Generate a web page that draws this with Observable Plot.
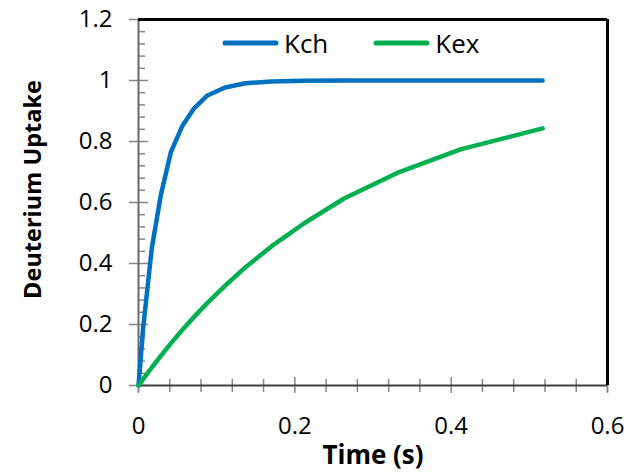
<!DOCTYPE html>
<html><head><meta charset="utf-8">
<script src="https://cdn.jsdelivr.net/npm/d3@7"></script>
<script src="https://cdn.jsdelivr.net/npm/@observablehq/plot@0.6"></script>
<style>
body{margin:0;background:#fff;}
#wrap{position:relative;width:641px;height:474px;font-family:"Open Sans",sans-serif;}
#legend{position:absolute;left:222px;top:29.6px;display:flex;align-items:center;font-size:26px;line-height:26px;color:#000;}
#legend .item{display:flex;align-items:center;margin-right:45px;}
#legend svg{margin-right:5px;}
</style></head><body><div id="wrap"></div>
<script>
const time = [0, 0.006, 0.017, 0.0286, 0.0414, 0.0563, 0.0711, 0.0882, 0.1107, 0.137, 0.170, 0.212, 0.263, 0.331, 0.412, 0.517];
const kch  = [0, 0.19, 0.45, 0.625, 0.765, 0.852, 0.909, 0.951, 0.977, 0.991, 0.997, 0.999, 1, 1, 1, 1];
const kex  = [0, 0.021, 0.059, 0.097, 0.138, 0.183, 0.225, 0.271, 0.327, 0.388, 0.456, 0.532, 0.613, 0.697, 0.774, 0.843];
const seriesNames = ["Kch", "Kex"];
const seriesColors = ["#0070C0", "#00B050"];
const xMajor = [0, 0.2, 0.4, 0.6];
const xMinor = [0, 0.04, 0.08, 0.12, 0.16, 0.24, 0.28, 0.32, 0.36, 0.44, 0.48, 0.52, 0.56, 0.6];
const yMajor = [0, 0.2, 0.4, 0.6, 0.8, 1, 1.2];
const yMinor = [0.04, 0.08, 0.12, 0.16, 0.24, 0.28, 0.32, 0.36, 0.44, 0.48, 0.52, 0.56, 0.64, 0.68, 0.72, 0.76, 0.84, 0.88, 0.92, 0.96, 1.04, 1.08, 1.12, 1.16];
const xLabel = "Time (s)";
const yLabel = "Deuterium Uptake";

const rows = [];
time.forEach((t, i) => {
  rows.push({t, v: kch[i], s: seriesNames[0]});
  rows.push({t, v: kex[i], s: seriesNames[1]});
});

const blank = () => "";
const tickGray = "#868686";

const chart = Plot.plot({
  width: 641,
  height: 474,
  marginLeft: 138,
  marginRight: 34,
  marginTop: 19,
  marginBottom: 89,
  style: {fontFamily: "'Open Sans', sans-serif", background: "#fff", color: "#000"},
  x: {domain: [0, 0.6]},
  y: {domain: [0, 1.2]},
  color: {domain: seriesNames, range: seriesColors},
  marks: [
    // y ticks
    Plot.axisY({ticks: yMinor, tickSize: -7, tickFormat: blank, label: null, stroke: tickGray, strokeWidth: 1.5}),
    Plot.axisY({ticks: yMajor, tickSize: -10, tickFormat: blank, label: null, stroke: tickGray, strokeWidth: 1.5}),
    Plot.axisY({ticks: yMajor, tickSize: 9, tickPadding: 17, tickFormat: d => String(d), label: null, stroke: tickGray, strokeWidth: 1.5, fontSize: 24, fill: "#000"}),
    // x ticks
    Plot.axisX({ticks: xMinor, tickSize: -6, tickFormat: blank, label: null, stroke: tickGray, strokeWidth: 1.5}),
    Plot.axisX({ticks: xMinor, tickSize: 7, tickFormat: blank, label: null, stroke: tickGray, strokeWidth: 1.5}),
    Plot.axisX({ticks: xMajor, tickSize: -8, tickFormat: blank, label: null, stroke: tickGray, strokeWidth: 1.5}),
    Plot.axisX({ticks: xMajor, tickSize: 8, tickPadding: 23, tickFormat: d => String(d), label: null, stroke: tickGray, strokeWidth: 1.5, fontSize: 24, fill: "#000"}),
    // axis lines and frame
    Plot.ruleX([0], {stroke: "#6a6a6a", strokeWidth: 2}),
    Plot.ruleY([0], {stroke: "#404040", strokeWidth: 2}),
    Plot.ruleY([1.2], {stroke: "#000", strokeWidth: 3}),
    Plot.ruleX([0.6], {stroke: "#000", strokeWidth: 3}),
    // data
    Plot.line(rows, {x: "t", y: "v", z: "s", stroke: "s", strokeWidth: 4.5, strokeLinejoin: "round", strokeLinecap: "round"}),
    // axis titles
    Plot.text([xLabel], {frameAnchor: "bottom", text: d => d, dy: 70.5, textAnchor: "middle", lineAnchor: "middle", fontSize: 26, fontWeight: "bold", fill: "#000"}),
    Plot.text([yLabel], {frameAnchor: "left", text: d => d, dx: -105, dy: -13, rotate: -90, textAnchor: "middle", lineAnchor: "middle", fontSize: 23.5, fontWeight: "bold", fill: "#000"})
  ]
});

const wrap = document.getElementById("wrap");
wrap.appendChild(chart);

const legend = d3.select(wrap).append("div").attr("id", "legend");
seriesNames.forEach((name, i) => {
  const item = legend.append("div").attr("class", "item");
  const sw = item.append("svg").attr("width", 57).attr("height", 8);
  sw.append("line").attr("x1", 3).attr("x2", 54).attr("y1", 4).attr("y2", 4)
    .attr("stroke", seriesColors[i]).attr("stroke-width", 5).attr("stroke-linecap", "round");
  item.append("span").text(name);
});
</script>
</body></html>
